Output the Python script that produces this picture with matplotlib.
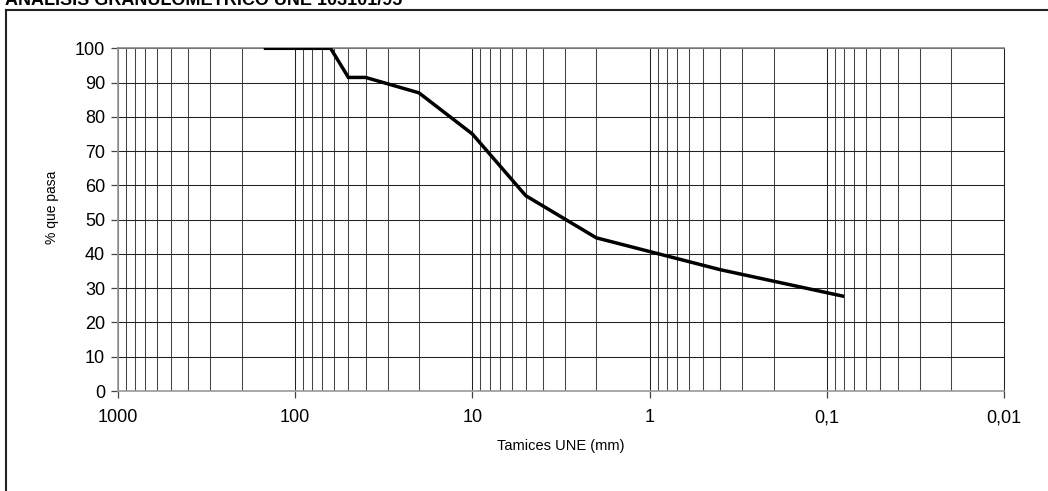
import matplotlib
matplotlib.use("Agg")
import matplotlib.pyplot as plt
from matplotlib.ticker import FixedLocator, FixedFormatter, NullFormatter
from matplotlib.lines import Line2D

# Sieve openings (mm) and cumulative percentage passing
sieve_mm = [150, 63, 50, 40, 20, 10, 5, 2, 0.4, 0.08]
pct_pass = [100, 100, 91.5, 91.5, 87, 75, 57, 44.7, 35.4, 27.6]

x_ticks = [1000, 100, 10, 1, 0.1, 0.01]
x_tick_labels = ["1000", "100", "10", "1", "0,1", "0,01"]
y_ticks = [0, 10, 20, 30, 40, 50, 60, 70, 80, 90, 100]

title = "ANÁLISIS GRANULOMÉTRICO UNE 103101/95"

plt.rcParams["font.family"] = ["Liberation Sans", "DejaVu Sans"]

W, H = 1048, 491
fig = plt.figure(figsize=(W / 100, H / 100), dpi=100)
ax = fig.add_axes([117.7 / W, 100 / H, (1004.3 - 117.7) / W, (391 - 48.3) / H])

ax.set_xscale("log")
ax.set_xlim(1000, 0.01)
ax.set_ylim(0, 100)

# minor sieve grid (2..9 in every decade)
minor = [m * 10.0 ** e for e in range(-2, 3) for m in range(2, 10)]
ax.xaxis.set_major_locator(FixedLocator(x_ticks))
ax.xaxis.set_major_formatter(FixedFormatter(x_tick_labels))
ax.xaxis.set_minor_locator(FixedLocator(minor))
ax.xaxis.set_minor_formatter(NullFormatter())
ax.set_yticks(y_ticks)

ax.grid(True, which="major", axis="both", color="#222222", linewidth=0.75)
ax.grid(True, which="minor", axis="x", color="#444444", linewidth=0.75)
ax.set_axisbelow(True)

ax.plot(sieve_mm, pct_pass, color="black", linewidth=2.5,
        solid_joinstyle="miter", solid_capstyle="butt", zorder=3)

for side in ("left", "bottom"):
    ax.spines[side].set_color("#999999")
    ax.spines[side].set_linewidth(1.2)
ax.spines["top"].set_color("#888888")
ax.spines["top"].set_linewidth(1.2)
ax.spines["right"].set_color("#222222")
ax.spines["right"].set_linewidth(0.75)

ax.tick_params(axis="both", which="major", labelsize=13, length=5,
               width=0.9, color="#444444", direction="out")
ax.tick_params(axis="x", which="major", pad=8)
ax.tick_params(axis="y", which="major", pad=4)
ax.tick_params(axis="x", which="minor", length=0)

ax.set_xlabel("Tamices UNE (mm)", fontsize=10.5)
ax.set_ylabel("% que pasa", fontsize=10)
ax.xaxis.set_label_coords(0.5, -0.14)
ax.yaxis.set_label_coords(-0.066, 0.535)

# surrounding frame of the chart area
fig.add_artist(Line2D([6 / W, 6 / W], [0, 1 - 9.5 / H], transform=fig.transFigure,
                      color="#222222", linewidth=1.5))
fig.add_artist(Line2D([6 / W, 1], [1 - 9.5 / H, 1 - 9.5 / H], transform=fig.transFigure,
                      color="#222222", linewidth=1.5))

fig.text(5 / W, 1 - 5 / H, title, fontsize=13, fontweight="bold",
         ha="left", va="baseline")

fig.savefig("out.png", dpi=100)
